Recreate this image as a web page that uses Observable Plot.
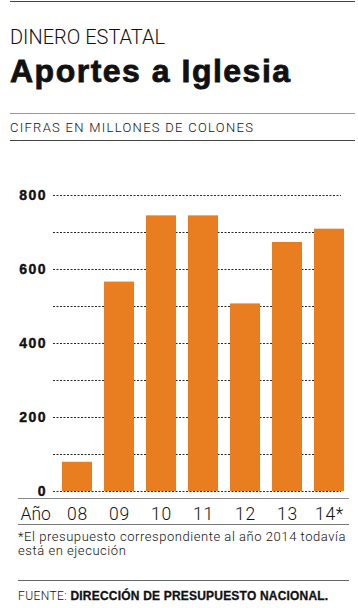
<!DOCTYPE html>
<html>
<head>
<meta charset="utf-8">
<script src="https://cdn.jsdelivr.net/npm/d3@7"></script>
<script src="https://cdn.jsdelivr.net/npm/@observablehq/plot@0.6"></script>
<style>
  html, body { margin: 0; padding: 0; background: #fff; }
  #page { position: relative; width: 358px; height: 608px; overflow: hidden; font-family: "Liberation Sans", Arial, sans-serif; color: #111; }
  .abs { position: absolute; white-space: nowrap; line-height: 1; }
  .hr { position: absolute; height: 0; }
  #chart { position: absolute; left: 0; top: 150px; }
  #chart g[aria-label="y-axis tick label"] text { letter-spacing: 1.5px; stroke: #111; stroke-width: 0.4px; }
  #chart g[aria-label="x-axis tick label"] text { letter-spacing: 0.7px; }
</style>
</head>
<body>
<div id="page">
  <div class="hr" style="left:10px; width:345px; top:1px; border-top:1.5px solid #444;"></div>
  <div class="abs" style="left:10px; top:27.4px; font-family:Roboto; font-weight:300; font-size:20px;">DINERO ESTATAL</div>
  <div class="abs" style="left:10px; top:54.6px; font-weight:bold; font-size:32px; letter-spacing:1.5px; -webkit-text-stroke:0.8px #111;">Aportes a Iglesia</div>
  <div class="hr" style="left:10px; width:345px; top:112.5px; border-top:1px solid #999;"></div>
  <div class="abs" style="left:10px; top:121.4px; font-family:Roboto; font-weight:300; font-size:13px; letter-spacing:1.3px;">CIFRAS EN MILLONES DE COLONES</div>
  <div class="hr" style="left:10px; width:345px; top:139.5px; border-top:1px solid #444;"></div>
  <div id="chart"></div>
  <div class="abs" style="left:18px; top:530.3px; font-family:Roboto; font-weight:300; font-size:13px; line-height:14px; letter-spacing:0.55px; white-space:nowrap;">*El presupuesto correspondiente al año 2014 todavía<br>está en ejecución</div>
  <div class="hr" style="left:18px; width:331px; top:579.5px; border-top:1px solid #666;"></div>
  <div class="abs" style="left:18px; top:589.8px; font-size:12px;"><span style="font-family:Roboto; font-weight:300; letter-spacing:0.4px;">FUENTE: </span><b style="letter-spacing:0.2px; -webkit-text-stroke:0.3px #111;">DIRECCIÓN DE PRESUPUESTO NACIONAL.</b></div>
</div>
<script>
const years = ["08", "09", "10", "11", "12", "13", "14*"];
const values = [79, 566, 745, 745, 507, 673, 709];
const yTicks = [0, 200, 400, 600, 800];
const gridValues = [0, 100, 200, 300, 400, 500, 600, 700, 800];
const xLabel = "Año";

const data = years.map((year, i) => ({year, value: values[i]}));

const chart = Plot.plot({
  width: 358,
  height: 380,
  marginTop: 45,
  marginBottom: 39,
  marginLeft: 49,
  marginRight: 1,
  style: {background: "transparent", overflow: "visible"},
  x: {domain: years, padding: 0.277},
  y: {domain: [0, 800]},
  marks: [
    Plot.gridY(gridValues, {stroke: "#111", strokeOpacity: 0.9, strokeDasharray: "2,1.5", insetLeft: 4, insetRight: 16}),
    Plot.barY(data, {x: "year", y: "value", fill: "#e87e1f"}),
    Plot.ruleY([0], {dy: 7, insetLeft: -31, insetRight: 8, stroke: "#888", strokeWidth: 1}),
    Plot.ruleY([0], {dy: 33, insetLeft: -31, insetRight: 8, stroke: "#777", strokeWidth: 1}),
    Plot.axisY(yTicks, {tickSize: 0, tickPadding: 2.5, fontSize: 14, fontWeight: "bold", fontFamily: "Liberation Sans", fill: "#111", label: null}),
    Plot.axisX({tickSize: 0, tickPadding: 16, fontSize: 17.5, fontWeight: 300, fontFamily: "Roboto", fill: "#111", label: null}),
    Plot.text([xLabel], {frameAnchor: "bottom-left", dx: -29, dy: 28, lineAnchor: "bottom", textAnchor: "start", fontSize: 17.5, fontWeight: 300, fontFamily: "Roboto", fill: "#111"})
  ]
});
document.getElementById("chart").appendChild(chart);
</script>
</body>
</html>
